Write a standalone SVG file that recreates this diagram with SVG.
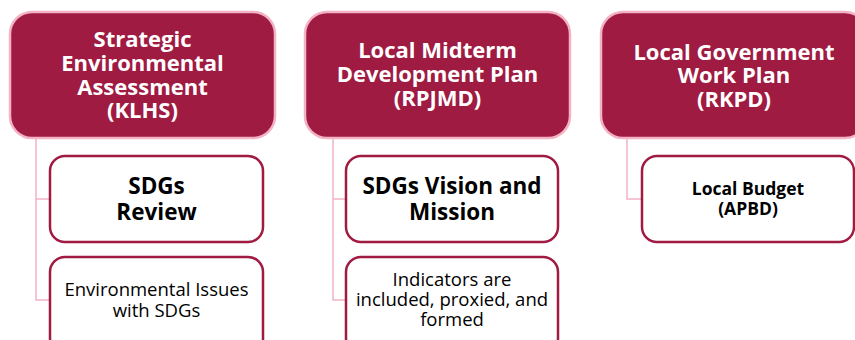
<svg xmlns="http://www.w3.org/2000/svg" width="855" height="340" viewBox="0 0 855 340">
<style>
.hdr{fill:#9F1B42;stroke:#F3B3C6;stroke-width:2.5}
.child{fill:#fff;stroke:#9F1B42;stroke-width:2.5}
.conn{fill:none;stroke:#F3B3C6;stroke-width:1.5}
.ht{font-family:"Open Sans",Lato,sans-serif;font-weight:bold;font-size:22px;fill:#fff;text-anchor:middle}
.cb{font-family:"Open Sans",Lato,sans-serif;font-weight:bold;font-size:22.5px;fill:#000;text-anchor:middle}
.cbs{font-family:"Open Sans",Lato,sans-serif;font-weight:bold;font-size:17.5px;fill:#000;text-anchor:middle}
.cr{font-family:"Open Sans",Lato,sans-serif;font-size:18.5px;fill:#000;text-anchor:middle}
</style>
<rect width="855" height="340" fill="#fff"/>
<g id="connectors">
<path class="conn" d="M36,138 V300 H50 M36,199 H50"/>
<path class="conn" d="M333,138 V300 H346 M333,199 H346"/>
<path class="conn" d="M627,138 V199 H642"/>
</g>
<g id="klhs">
<rect class="hdr" x="10" y="12" width="265" height="126" rx="22"/>
<text class="ht" x="142.5" y="47">Strategic</text>
<text class="ht" x="142.5" y="71">Environmental</text>
<text class="ht" x="142.5" y="95">Assessment</text>
<text class="ht" x="142.5" y="118">(KLHS)</text>
</g>
<g id="sdgs-review">
<rect class="child" x="50" y="156" width="213" height="86" rx="15"/>
<text class="cb" x="156.5" y="194">SDGs</text>
<text class="cb" x="156.5" y="220">Review</text>
</g>
<g id="env-issues">
<rect class="child" x="50" y="257" width="213" height="100" rx="15"/>
<text class="cr" x="156.5" y="296">Environmental Issues</text>
<text class="cr" x="156.5" y="317">with SDGs</text>
</g>
<g id="rpjmd">
<rect class="hdr" x="305" y="12" width="265" height="126" rx="22"/>
<text class="ht" x="437.5" y="58">Local Midterm</text>
<text class="ht" x="437.5" y="82">Development Plan</text>
<text class="ht" x="437.5" y="106">(RPJMD)</text>
</g>
<g id="vision">
<rect class="child" x="346" y="156" width="212" height="86" rx="15"/>
<text class="cb" x="452" y="194">SDGs Vision and</text>
<text class="cb" x="452" y="220">Mission</text>
</g>
<g id="indicators">
<rect class="child" x="346" y="257" width="212" height="100" rx="15"/>
<text class="cr" x="452" y="286">Indicators are</text>
<text class="cr" x="452" y="306">included, proxied, and</text>
<text class="cr" x="452" y="326">formed</text>
</g>
<g id="rkpd">
<rect class="hdr" x="601" y="12" width="266" height="126" rx="22"/>
<text class="ht" x="734" y="60">Local Government</text>
<text class="ht" x="734" y="83">Work Plan</text>
<text class="ht" x="734" y="107">(RKPD)</text>
</g>
<g id="apbd">
<rect class="child" x="642" y="156" width="212" height="86" rx="15"/>
<text class="cbs" x="748" y="195">Local Budget</text>
<text class="cbs" x="748" y="215">(APBD)</text>
</g>
</svg>
